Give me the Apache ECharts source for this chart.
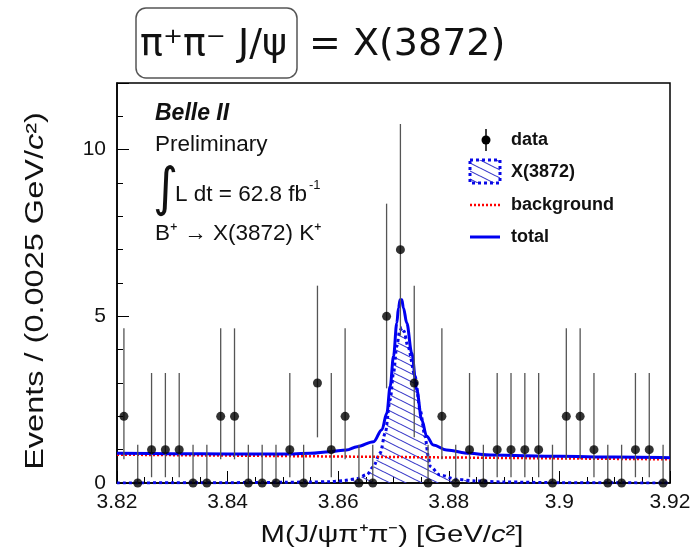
<!DOCTYPE html>
<html><head><meta charset="utf-8">
<script src="https://cdn.jsdelivr.net/npm/echarts@6/dist/echarts.min.js"></script>
<style>html,body{margin:0;padding:0;background:#fff}#c{width:694px;height:556px}</style>
</head><body><div id="c"></div>
<script>
// ---- data ----
const binCenters = [3.82125,3.82375,3.82625,3.82875,3.83125,3.83375,3.83625,3.83875,3.84125,3.84375,
  3.84625,3.84875,3.85125,3.85375,3.85625,3.85875,3.86125,3.86375,3.86625,3.86875,
  3.87125,3.87375,3.87625,3.87875,3.88125,3.88375,3.88625,3.88875,3.89125,3.89375,
  3.89625,3.89875,3.90125,3.90375,3.90625,3.90875,3.91125,3.91375,3.91625,3.91875];
const counts = [2,0,1,1,1,0,0,2,2,0, 0,0,1,0,3,1,2,0,0,5, 7,3,0,2,0,1,0,1,1,1, 1,0,2,2,1,0,0,1,1,0];
const errLo = [1.29,0,0.827,0.827,0.827,0,0,1.29,1.29,0, 0,0,0.827,0,1.63,0.827,1.29,0,0,2.16,
  2.58,1.63,0,1.29,0,0.827,0,0.827,0.827,0.827, 0.827,0,1.29,1.29,0.827,0,0,0.827,0.827,0];
const errHi = [2.64,1.148,2.30,2.30,2.30,1.148,1.148,2.64,2.64,1.148, 1.148,1.148,2.30,1.148,2.92,2.30,2.64,1.148,1.148,3.38,
  3.77,2.92,1.148,2.64,1.148,2.30,1.148,2.30,2.30,2.30, 2.30,1.148,2.64,2.64,2.30,1.148,1.148,2.30,2.30,1.148];

const sigX = [3.82,3.83,3.84,3.85,3.855,3.8585,3.8609,3.8633,3.8652,3.8663,3.8676,3.8685,3.8694,3.8700,3.8706,3.8711,3.8715,
  3.8719,3.8726,3.8739,3.8748,3.8757,3.8763,3.8766,3.8784,3.8814,3.885,3.89,3.90,3.91,3.92];
const sigY = [0.0,0.005,0.01,0.02,0.03,0.04,0.07,0.13,0.25,0.48,0.9,1.5,2.5,3.3,4.1,4.55,4.66,
  4.55,4.1,3.2,2.2,1.4,0.8,0.5,0.24,0.11,0.06,0.03,0.01,0.005,0.0];

const totX = [3.82,3.83,3.84,3.85,3.855,3.8585,3.8615,3.8634,3.8664,3.8679,3.8688,3.8694,3.8700,3.8706,3.8709,3.8712,3.8715,
  3.8718,3.8724,3.8733,3.8742,3.8751,3.8760,3.8772,3.8796,3.8838,3.8875,3.90,3.91,3.92];
const totY = [0.89,0.88,0.87,0.87,0.89,0.94,0.99,1.09,1.24,1.6,2.1,2.9,3.8,4.8,5.25,5.5,5.5,
  5.25,4.8,3.9,2.8,1.9,1.4,1.14,0.99,0.89,0.84,0.80,0.78,0.76];

const bkgX = [3.82,3.92];
const bkgY = [0.85,0.71];

const xTicks = {min:3.82, max:3.92, step:0.02};
const yTicks = {min:0, max:12, step:5};

const legendLabels = ['data','X(3872)','background','total'];

// ---- helpers ----
function hatchPattern(){
  const c=document.createElement('canvas'); c.width=16; c.height=8;
  const g=c.getContext('2d'); g.strokeStyle='#3838c8'; g.lineWidth=1.1;
  [-8,0,8].forEach(o=>{g.beginPath(); g.moveTo(0,o); g.lineTo(16,o+8); g.stroke();});
  return c;
}
const hatch = hatchPattern();
const FONT='"Liberation Sans", Arial, Helvetica, sans-serif';
const fmtX = v => String(parseFloat(v.toFixed(4)));

const chart = echarts.init(document.getElementById('c'), null, {renderer:'canvas'});
const tickLine = {color:'#000', width:1};
const option = {
  animation:false,
  backgroundColor:'#fff',
  grid:{left:117,right:24,top:83,bottom:73,show:true,borderColor:'#000',borderWidth:1.5,backgroundColor:'transparent',containLabel:false,outerBoundsMode:'none'},
  xAxis:[{type:'value',min:xTicks.min,max:xTicks.max,interval:xTicks.step,
    axisLine:{show:true,onZero:false,lineStyle:{color:'#000',width:1.5}},
    axisTick:{show:true,inside:true,length:12,lineStyle:tickLine},
    minorTick:{show:true,splitNumber:4,length:6,lineStyle:tickLine},
    splitLine:{show:false},minorSplitLine:{show:false},
    axisLabel:{formatter:fmtX,fontSize:21,color:'#111',margin:9,fontFamily:FONT,showMinLabel:true,showMaxLabel:true,hideOverlap:false}}],
  yAxis:[
    {type:'value',min:yTicks.min,max:yTicks.max,interval:1,position:'left',
      axisLine:{show:true,onZero:false,lineStyle:{color:'#000',width:1.5}},
      axisTick:{show:true,inside:true,length:6,lineStyle:tickLine},
      axisLabel:{show:false},splitLine:{show:false}},
    {type:'value',min:yTicks.min,max:yTicks.max,interval:yTicks.step,position:'left',offset:0,
      axisLine:{show:false},
      axisTick:{show:true,inside:true,length:12,lineStyle:tickLine},
      axisLabel:{formatter:v=> (v%yTicks.step===0? String(v):''),fontSize:21,color:'#111',margin:11,fontFamily:FONT,hideOverlap:false},
      splitLine:{show:false}}
  ],
  series:[
    {name:'X(3872)',type:'line',xAxisIndex:0,yAxisIndex:0,data:sigX.map((x,i)=>[x,sigY[i]]),
      showSymbol:false,symbol:'none',smooth:0.3,smoothMonotone:'x',z:2,
      lineStyle:{color:'#0808e8',width:3,type:[3,3]},
      areaStyle:{color:{image:hatch,repeat:'repeat'},opacity:1}},
    {name:'background',type:'line',xAxisIndex:0,yAxisIndex:0,data:bkgX.map((x,i)=>[x,bkgY[i]]),
      showSymbol:false,symbol:'none',z:3,lineStyle:{color:'#ff0000',width:2.5,type:[2,2]}},
    {name:'total',type:'line',xAxisIndex:0,yAxisIndex:0,data:totX.map((x,i)=>[x,totY[i]]),
      showSymbol:false,symbol:'none',smooth:0.35,smoothMonotone:'x',z:4,lineStyle:{color:'#0000f0',width:3}},
    {name:'errors',type:'custom',xAxisIndex:0,yAxisIndex:0,z:5,silent:true,
      data:binCenters.map((x,i)=>[x,counts[i]-errLo[i],counts[i]+errHi[i]]),
      renderItem:(params,api)=>{
        const p1=api.coord([api.value(0),api.value(1)]);
        const p2=api.coord([api.value(0),api.value(2)]);
        return {type:'line',shape:{x1:p1[0],y1:p1[1],x2:p2[0],y2:p2[1]},style:{stroke:'#555',lineWidth:1.3}};
      }},
    {name:'data',type:'scatter',xAxisIndex:0,yAxisIndex:0,z:6,symbol:'circle',symbolSize:9,
      itemStyle:{color:'#000'},data:binCenters.map((x,i)=>[x,counts[i]])}
  ],
  graphic:[
    // title box
    {type:'rect',shape:{x:136,y:8,width:161,height:70,r:10},style:{fill:'none',stroke:'#555',lineWidth:1.5}},
    {type:'text',x:140,y:45,style:{text:'π⁺π⁻ J/ψ',font:'38px "DejaVu Sans"',fill:'#111',align:'left',verticalAlign:'middle'}},
    {type:'text',x:309,y:45,style:{text:'= X(3872)',font:'38px "DejaVu Sans"',fill:'#111',align:'left',verticalAlign:'middle'}},
    // annotations
    {type:'text',x:155,y:114,style:{text:'Belle II',font:'italic bold 23px '+FONT,fill:'#111',align:'left',verticalAlign:'middle'}},
    {type:'text',x:155,y:145,style:{text:'Preliminary',font:'22.5px '+FONT,fill:'#111',align:'left',verticalAlign:'middle'}},
    {type:'text',x:153,y:191,scaleY:1.1,style:{text:'∫',font:'48px "DejaVu Sans"',fill:'#111',align:'left',verticalAlign:'middle'}},
    {type:'text',x:175,y:195,style:{text:'L dt = 62.8 fb',font:'22.5px '+FONT,fill:'#111',align:'left',verticalAlign:'middle'}},
    {type:'text',x:309,y:185,style:{text:'-1',font:'13px '+FONT,fill:'#111',align:'left',verticalAlign:'middle'}},
    {type:'text',x:155,y:234,style:{text:'B⁺ → X(3872) K⁺',font:'22.5px '+FONT,fill:'#111',align:'left',verticalAlign:'middle'}},
    // legend
    {type:'line',shape:{x1:486,y1:129,x2:486,y2:151},style:{stroke:'#000',lineWidth:1.5}},
    {type:'circle',shape:{cx:486,cy:140,r:4.5},style:{fill:'#000'}},
    {type:'rect',shape:{x:470,y:160,width:30,height:23},style:{fill:{image:hatch,repeat:'repeat'},stroke:'#0808e8',lineWidth:3,lineDash:[3,3]}},
    {type:'line',shape:{x1:470,y1:205,x2:500,y2:205},style:{stroke:'#ff0000',lineWidth:2.5,lineDash:[2,2]}},
    {type:'line',shape:{x1:470,y1:237,x2:500,y2:237},style:{stroke:'#0000f0',lineWidth:3}},
    {type:'text',x:511,y:140,style:{text:legendLabels[0],font:'bold 18px '+FONT,fill:'#111',verticalAlign:'middle'}},
    {type:'text',x:511,y:172,style:{text:legendLabels[1],font:'bold 18px '+FONT,fill:'#111',verticalAlign:'middle'}},
    {type:'text',x:511,y:205,style:{text:legendLabels[2],font:'bold 18px '+FONT,fill:'#111',verticalAlign:'middle'}},
    {type:'text',x:511,y:237,style:{text:legendLabels[3],font:'bold 18px '+FONT,fill:'#111',verticalAlign:'middle'}},
    // axis titles
    {type:'text',x:36,y:291,rotation:Math.PI/2,scaleX:1.3,style:{
      text:'{a|Events / (0.0025 GeV/}{c|c}{a|²)}',align:'center',verticalAlign:'middle',
      rich:{a:{font:'25px '+FONT,fill:'#111'},c:{font:'italic 25px '+FONT,fill:'#111'}}}},
    {type:'text',x:392,y:535,scaleX:1.22,style:{
      text:'{a|M(J/ψπ⁺π⁻) [GeV/}{c|c}{a|²]}',align:'center',verticalAlign:'middle',
      rich:{a:{font:'24px '+FONT,fill:'#111'},c:{font:'italic 24px '+FONT,fill:'#111'}}}}
  ]
};
chart.setOption(option);
</script></body></html>
